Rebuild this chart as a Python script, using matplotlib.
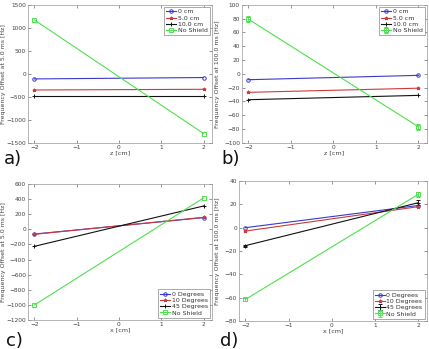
import matplotlib
matplotlib.use("Agg")
import matplotlib.pyplot as plt

x_pos = [-2, 2]

# Panel a: z scan at 5.0 ms
a_labels = ["0 cm", "5.0 cm", "10.0 cm", "No Shield"]
a_0cm = [-110, -80]
a_5cm = [-350, -335]
a_10cm = [-490, -490]
a_noshield = [1170, -1295]

# Panel b: z scan at 100.0 ms
b_labels = ["0 cm", "5.0 cm", "10.0 cm", "No Shield"]
b_0cm = [-8.7, -2.4]
b_5cm = [-27, -21]
b_10cm = [-37.7, -31.4]
b_noshield = [79, -77]
b_noshield_err = [4, 4]

# Panel c: x scan at 5.0 ms
c_labels = ["0 Degrees", "10 Degrees", "45 Degrees", "No Shield"]
c_0deg = [-62, 155]
c_10deg = [-66, 159]
c_45deg = [-225, 309]
c_noshield = [-1002, 415]

# Panel d: x scan at 100.0 ms
d_labels = ["0 Degrees", "10 Degrees", "45 Degrees", "No Shield"]
d_0deg = [0, 19]
d_10deg = [-2.9, 18]
d_45deg = [-15.4, 21.4]
d_45deg_err = [0.8, 2]
d_noshield = [-61.5, 28.6]
d_noshield_err = [1.2, 2]

colors = ["#3a3acc", "#cc3a3a", "#111111", "#4ee04e"]
markers = ["o", "*", "+", "s"]
txt = "#444444"

fig = plt.figure(figsize=(4.29, 3.49), dpi=100)
W, H = 429, 349

def ax_at(l, r, t, b):
    return fig.add_axes([l / W, 1 - b / H, (r - l) / W, (b - t) / H])

def style(ax, yl, yticks, xl, ylabel, left_px, ylab_x):
    ax.set_xlim(-2.15, 2.2)
    ax.set_ylim(*yl)
    ax.set_xticks([-2, -1, 0, 1, 2])
    ax.set_xticklabels(["\u22122", "\u22121", "0", "1", "2"])
    ax.set_yticks(yticks)
    ax.set_yticklabels([str(v).replace("-", "\u2212") for v in yticks])
    ax.tick_params(direction="in", labelsize=4.2, colors=txt, length=2, width=0.4, pad=1.5,
                   top=True, right=True)
    for s in ax.spines.values():
        s.set_color("#999999")
        s.set_linewidth(0.5)
    ax.set_xlabel(xl, fontsize=4.6, color=txt, labelpad=0.5)
    ax.set_ylabel(ylabel, fontsize=4.5, color=txt, va="center")
    wpx = ax.get_position().width * W
    ax.yaxis.set_label_coords((ylab_x - left_px) / wpx, 0.5)

def draw(ax, series, labels, errs, loc):
    for i, (ys, lab) in enumerate(zip(series, labels)):
        e = errs.get(i)
        ax.errorbar(x_pos, ys, yerr=e, color=colors[i], marker=markers[i], ms=2.5,
                    mfc="none" if markers[i] in ("o", "s") else colors[i], mew=0.7,
                    lw=0.8, elinewidth=0.6, capsize=1.2, label=lab)
    leg = ax.legend(loc=loc, fontsize=4.5, handlelength=1.6, handletextpad=0.3,
                    borderpad=0.3, labelspacing=0.15, framealpha=1, fancybox=False,
                    borderaxespad=0.4)
    leg.get_frame().set_edgecolor("#888888")
    leg.get_frame().set_linewidth(0.5)
    for t in leg.get_texts():
        t.set_color("#333333")

axa = ax_at(28, 212, 4.7, 143)
draw(axa, [a_0cm, a_5cm, a_10cm, a_noshield], a_labels, {}, "upper right")
style(axa, (-1500, 1500), list(range(-1500, 1501, 500)), "z [cm]",
      "Frequency Offset at 5.0 ms [Hz]", 28, 3.5)

axb = ax_at(242, 427, 4.7, 142.7)
draw(axb, [b_0cm, b_5cm, b_10cm, b_noshield], b_labels, {3: b_noshield_err}, "upper right")
style(axb, (-100, 100), list(range(-100, 101, 20)), "z [cm]",
      "Frequency Offset at 100.0 ms [Hz]", 242, 218)

axc = ax_at(28, 212, 184, 320)
draw(axc, [c_0deg, c_10deg, c_45deg, c_noshield], c_labels, {}, "lower right")
style(axc, (-1200, 600), list(range(-1200, 601, 200)), "x [cm]",
      "Frequency Offset at 5.0 ms [Hz]", 28, 3.5)

axd = ax_at(239, 427, 181, 321)
draw(axd, [d_0deg, d_10deg, d_45deg, d_noshield], d_labels,
     {2: d_45deg_err, 3: d_noshield_err}, "lower right")
style(axd, (-80, 40), list(range(-80, 41, 20)), "x [cm]",
      "Frequency Offset at 100.0 ms [Hz]", 239, 217)

for lab, x, y in [("a)", 4, 159), ("b)", 221, 159), ("c)", 6, 341), ("d)", 220, 341)]:
    fig.text(x / W, 1 - y / H, lab, fontsize=13, color="#111111", va="center", ha="left")

fig.savefig("out.png", dpi=100)
